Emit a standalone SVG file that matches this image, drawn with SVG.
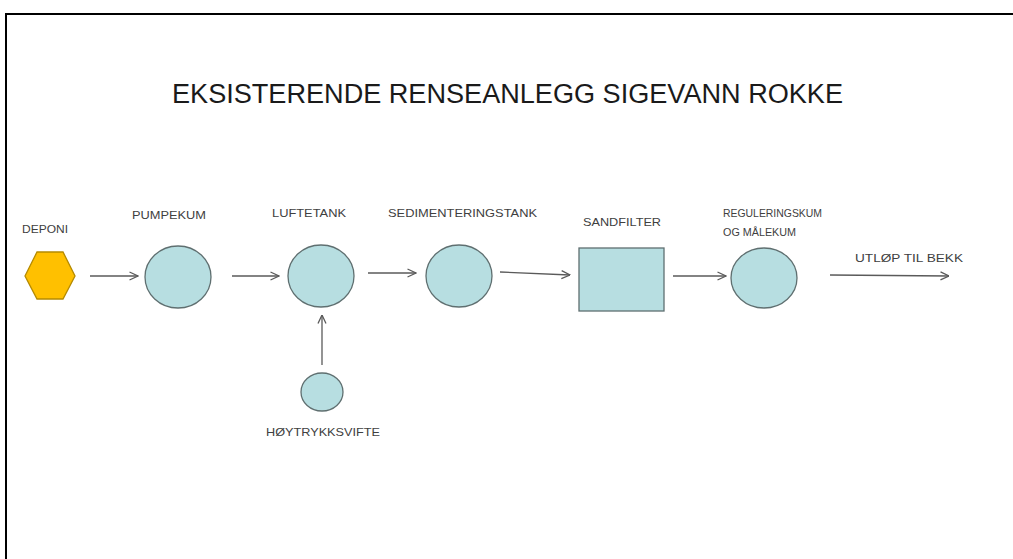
<svg xmlns="http://www.w3.org/2000/svg" width="1013" height="559" viewBox="0 0 1013 559">
<style>
.lbl{font-family:"Liberation Sans",Arial,sans-serif;font-size:11px;fill:#404040}
.ttl{font-family:"Liberation Sans",Arial,sans-serif;font-size:27px;fill:#1a1a1a}
.tank{fill:#b7dee1;stroke:#5f6f70;stroke-width:1.3}
.con{stroke:#5a5a5a;stroke-width:1.3;fill:none;marker-end:url(#ah)}
</style>
<defs>
<marker id="ah" viewBox="0 0 10 10" refX="9.5" refY="5" markerWidth="10" markerHeight="10" markerUnits="userSpaceOnUse" orient="auto">
<path d="M1,1 L9.5,5 L1,9" fill="none" stroke="#5a5a5a" stroke-width="1.3"/>
</marker>
</defs>
<rect width="1013" height="559" fill="#ffffff"/>
<path d="M6,559 L6,14 L1013,14" fill="none" stroke="#000" stroke-width="2"/>
<text class="ttl" x="172" y="103" textLength="671" lengthAdjust="spacingAndGlyphs">EKSISTERENDE RENSEANLEGG SIGEVANN ROKKE</text>
<g id="deponi">
<polygon points="25,276 37,252 63,252 75,276 63,299 37,299" fill="#ffc000" stroke="#b58a00" stroke-width="1.3"/>
<text class="lbl" x="22" y="233" textLength="46" lengthAdjust="spacingAndGlyphs">DEPONI</text>
</g>
<g id="pumpekum">
<ellipse class="tank" cx="178" cy="277" rx="33" ry="31"/>
<text class="lbl" x="132" y="219" textLength="74" lengthAdjust="spacingAndGlyphs">PUMPEKUM</text>
</g>
<g id="luftetank">
<ellipse class="tank" cx="321" cy="276" rx="33" ry="31"/>
<text class="lbl" x="272" y="217" textLength="74" lengthAdjust="spacingAndGlyphs">LUFTETANK</text>
</g>
<g id="sedimenteringstank">
<ellipse class="tank" cx="459" cy="276" rx="33" ry="31"/>
<text class="lbl" x="388" y="217" textLength="149" lengthAdjust="spacingAndGlyphs">SEDIMENTERINGSTANK</text>
</g>
<g id="sandfilter">
<rect class="tank" x="579" y="248" width="85" height="63"/>
<text class="lbl" x="583" y="226" textLength="78" lengthAdjust="spacingAndGlyphs">SANDFILTER</text>
</g>
<g id="reguleringskum">
<ellipse class="tank" cx="764" cy="278" rx="33" ry="30"/>
<text class="lbl" x="723" y="217" textLength="99" lengthAdjust="spacingAndGlyphs">REGULERINGSKUM</text>
<text class="lbl" x="723" y="236" textLength="73" lengthAdjust="spacingAndGlyphs">OG MÅLEKUM</text>
</g>
<g id="hoytrykksvifte">
<ellipse class="tank" cx="322" cy="392" rx="21" ry="19"/>
<text class="lbl" x="266" y="436" textLength="114" lengthAdjust="spacingAndGlyphs">HØYTRYKKSVIFTE</text>
</g>
<g id="utlop">
<text class="lbl" x="855" y="262" textLength="108" lengthAdjust="spacingAndGlyphs">UTLØP TIL BEKK</text>
</g>
<g id="connectors">
<line class="con" x1="90" y1="276" x2="138" y2="276"/>
<line class="con" x1="232" y1="276" x2="279" y2="276"/>
<line class="con" x1="368" y1="273" x2="416" y2="273"/>
<line class="con" x1="500" y1="272" x2="570" y2="275"/>
<line class="con" x1="673" y1="276" x2="726" y2="276"/>
<line class="con" x1="830" y1="275" x2="949" y2="276"/>
<line class="con" x1="322" y1="365" x2="322" y2="315"/>
</g>
</svg>
